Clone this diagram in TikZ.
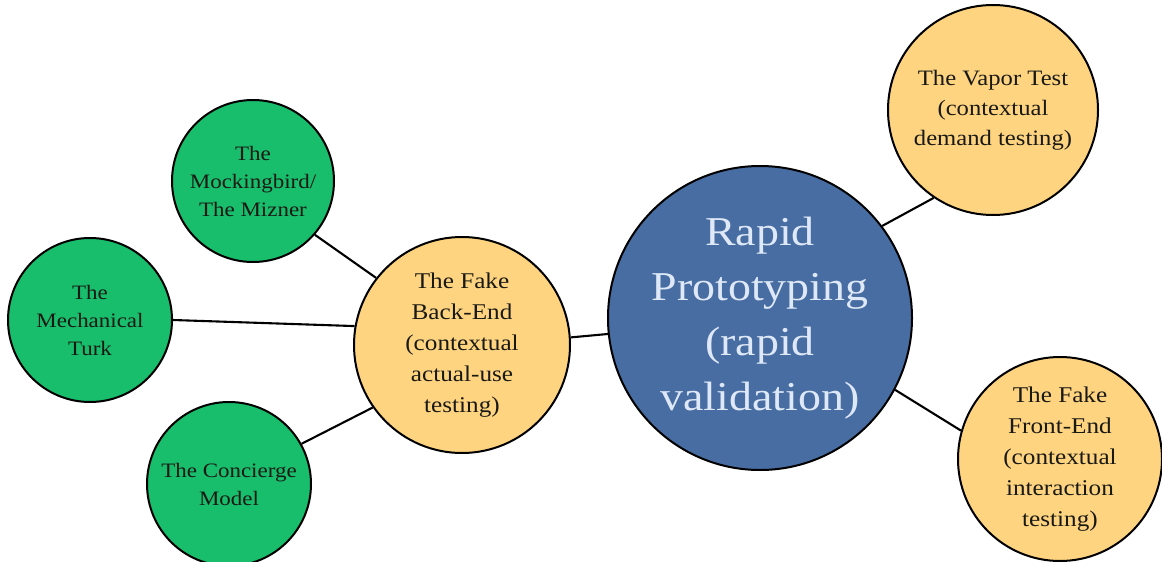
\documentclass[tikz,border=0pt]{standalone}
\usepackage{fontspec}
\setmainfont[FakeStretch=1.12]{Liberation Serif}
\definecolor{cgreen}{RGB}{24,190,108}
\definecolor{cyellow}{RGB}{255,212,128}
\definecolor{cblue}{RGB}{72,109,163}
\definecolor{cbluetext}{RGB}{222,232,246}
\definecolor{cdark}{RGB}{25,25,20}
\begin{document}
\begin{tikzpicture}[x=1pt,y=-1pt,
  bubble/.style={circle,draw=black,line width=2pt,inner sep=0pt,align=center,text=cdark},
  greenb/.style={bubble,fill=cgreen,minimum size=164pt,font=\fontsize{20.5}{28}\selectfont},
  yellowb/.style={bubble,fill=cyellow,font=\fontsize{22.5}{31}\selectfont},
  blueb/.style={bubble,fill=cblue,text=cbluetext,minimum size=304pt,font=\fontsize{41}{55}\selectfont},
  link/.style={draw=black,line width=2.1pt}]
\useasboundingbox (0,0) rectangle (1162,562);
\begin{scope}
\clip (0,0) rectangle (1162,562);
\node[blueb] (rp) at (760,318) {Rapid\\Prototyping\\(rapid\\validation)};
\node[yellowb,minimum size=216pt] (be) at (462,345) {The Fake\\Back-End\\(contextual\\actual-use\\testing)};
\node[yellowb,minimum size=210pt,font=\fontsize{22}{30}\selectfont] (vt) at (993,110) {The Vapor Test\\(contextual\\demand testing)};
\node[yellowb,minimum size=204pt] (fe) at (1060,459) {The Fake\\Front-End\\(contextual\\interaction\\testing)};
\node[greenb,minimum size=162pt] (mb) at (253,181) {The\\Mockingbird/\\The Mizner};
\node[greenb] (mt) at (90,320) {The\\Mechanical\\Turk};
\node[greenb] (cm) at (229,484) {The Concierge\\Model};
\draw[link] (mb.319) -- (be.142);
\draw[link] (mt.0) -- (be.170);
\draw[link] (cm.29) -- (be.215);
\draw[link] (be.4) -- (rp.186);
\draw[link] (rp.37) -- (vt.236);
\draw[link] (rp.-28) -- (fe.164);
\end{scope}
\end{tikzpicture}
\end{document}
